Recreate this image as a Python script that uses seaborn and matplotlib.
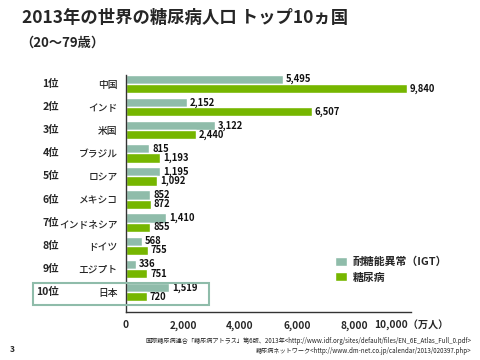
import matplotlib
matplotlib.use("Agg")
import matplotlib.pyplot as plt
import seaborn as sns
import pandas as pd
from matplotlib.patches import Rectangle

sns.set_theme(style="white")
plt.rcParams['font.family'] = ['Noto Sans CJK JP', 'DejaVu Sans']

ranks = ["1位", "2位", "3位", "4位", "5位", "6位", "7位", "8位", "9位", "10位"]
countries = ["中国", "インド", "米国", "ブラジル", "ロシア", "メキシコ", "インドネシア", "ドイツ", "エジプト", "日本"]
igt = [5495, 2152, 3122, 815, 1195, 852, 1410, 568, 336, 1519]
diabetes = [9840, 6507, 2440, 1193, 1092, 872, 855, 755, 751, 720]
series = ["耐糖能異常（IGT）", "糖尿病"]
xticks = [0, 2000, 4000, 6000, 8000, 10000]
xticklabels = ["0", "2,000", "4,000", "6,000", "8,000", "10,000（万人）"]

df = pd.DataFrame({
    "country": countries * 2,
    "value": igt + diabetes,
    "series": [series[0]] * len(countries) + [series[1]] * len(countries),
})

colors = {series[0]: "#8fbcaa", series[1]: "#76b600"}

fig = plt.figure(figsize=(4.8, 3.6), dpi=100)
ax = fig.add_axes([0.2625, 0.133, 0.594, 0.659])
sns.barplot(data=df, y="country", x="value", hue="series", palette=colors,
            orient="h", width=0.8, ax=ax, saturation=1, errorbar=None)

for cont in ax.containers:
    ax.bar_label(cont, labels=[f"{v:,.0f}" for v in cont.datavalues],
                 padding=2, fontsize=6.8, fontweight="bold", color="#111111")

ax.set_xlim(0, 10000)
ax.set_ylim(9.87, -0.39)
ax.set_xticks(xticks)
ax.set_xticklabels(xticklabels, fontsize=7.3, fontweight="bold")
ax.set_yticks(range(len(countries)))
ax.set_yticklabels(countries, fontsize=7, fontweight="medium")
ax.set_xlabel("")
ax.set_ylabel("")
ax.tick_params(axis="x", direction="out", length=5, width=1, color="#333333", pad=1)
ax.tick_params(axis="y", length=0, pad=6)
for s in ["top", "right"]:
    ax.spines[s].set_visible(False)
for s in ["left", "bottom"]:
    ax.spines[s].set_color("#333333")
    ax.spines[s].set_linewidth(1)

for i, r in enumerate(ranks):
    ax.text(-0.235, i, r, transform=ax.get_yaxis_transform(), ha="right", va="center",
            fontsize=7.5, fontweight="bold")

# highlight box for Japan
fig.patches.append(Rectangle((33 / 480, 1 - 305 / 360), 176 / 480, 22 / 360,
                             transform=fig.transFigure, fill=False,
                             edgecolor="#8fbcaa", linewidth=1.5))

leg = ax.legend(loc="upper left", bbox_to_anchor=(0.70, 0.275), frameon=False,
                fontsize=7.8, handlelength=1.1, handleheight=0.9, labelspacing=0.5,
                handletextpad=0.5)
for t in leg.get_texts():
    t.set_fontweight("bold")

fig.text(22 / 480, 1 - 18 / 360, "2013年の世界の糖尿病人口 トップ10ヵ国",
         fontsize=12.5, fontweight="bold", va="center", ha="left")
fig.text(20 / 480, 1 - 43 / 360, "（20～79歳）",
         fontsize=9.5, fontweight="bold", va="center", ha="left")
fig.text(12 / 480, 1 - 349 / 360, "3", fontsize=6, fontweight="bold", va="center", ha="center")
fig.text(471 / 480, 1 - 341 / 360,
         "国際糖尿病連合「糖尿病アトラス」第6版、2013年<http://www.idf.org/sites/default/files/EN_6E_Atlas_Full_0.pdf>",
         fontsize=4.45, va="center", ha="right", color="#222222")
fig.text(471 / 480, 1 - 351 / 360,
         "糖尿病ネットワーク<http://www.dm-net.co.jp/calendar/2013/020397.php>",
         fontsize=4.45, va="center", ha="right", color="#222222")

fig.savefig("out.png", dpi=100)
